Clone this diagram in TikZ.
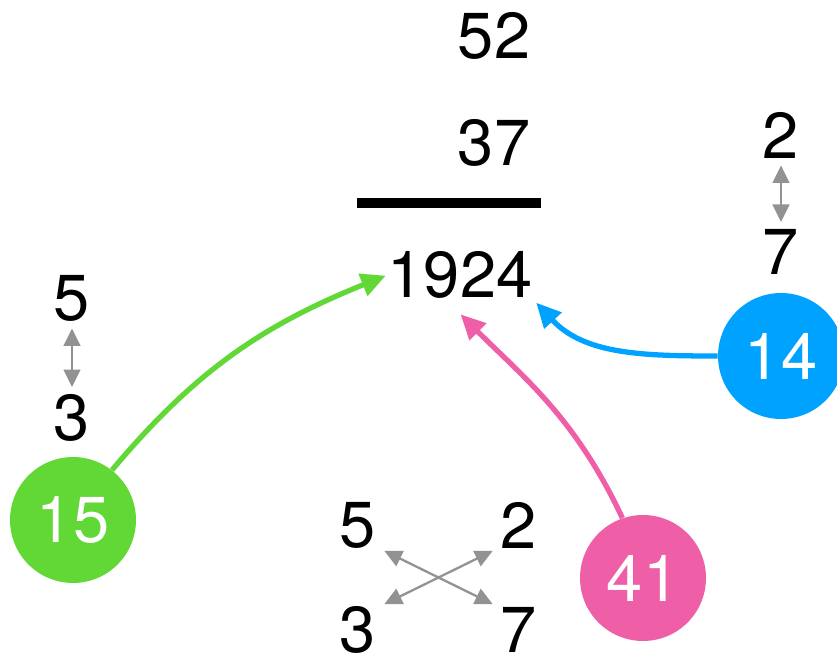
\documentclass[tikz,border=0pt]{standalone}
\usepackage{fontspec}
\setmainfont{TeX Gyre Heros}
\usetikzlibrary{arrows.meta}
\definecolor{ballgreen}{HTML}{61D836}
\definecolor{ballblue}{HTML}{00A2FF}
\definecolor{ballpink}{HTML}{EF5FA7}
\definecolor{swapgray}{HTML}{929292}

\begin{document}
\begin{tikzpicture}[x=0.02cm, y=0.02cm,
  digit/.style={inner sep=0pt, font=\fontsize{37}{40}\selectfont},
  ball/.style={circle, minimum size=2.52cm, inner sep=0pt, text=white, font=\fontsize{37}{40}\selectfont},
  swaparrow/.style={draw=swapgray, line width=1.3pt, {Triangle[length=10pt,width=9.5pt]}-{Triangle[length=10pt,width=9.5pt]}, shorten <=4pt, shorten >=4pt},
  link/.style={line width=3pt, -{Triangle[length=14pt,width=13pt]}}]
\useasboundingbox (0,0) rectangle (837,659);
% the multiplication
\node[digit] (top) at (494,623) {52};
\node[digit] (mid) at (494,516) {37};
\draw[line width=5.7pt] (357,456) -- (541,456);
\node[digit] (prod) at (460,384) {1924};
% digit pairs
\node[digit] (r2) at (781,524) {2};
\node[digit] (r7) at (781,407) {7};
\draw[swaparrow] (r2) -- (r7);
\node[digit] (l5) at (72,361) {5};
\node[digit] (l3) at (72,241) {3};
\draw[swaparrow] (l5) -- (l3);
\node[digit] (b5) at (358,134) {5};
\node[digit] (b2) at (519,134) {2};
\node[digit] (b3) at (358,29) {3};
\node[digit] (b7) at (519,29) {7};
\draw[swaparrow, shorten <=5pt, shorten >=5pt] (b5.-50) -- (b7.130);
\draw[swaparrow, shorten <=5pt, shorten >=5pt] (b3.50) -- (b2.-130);
% partial products
\node[ball, fill=ballgreen] (g) at (73,139) {15};
\node[ball, fill=ballblue] (b) at (781,303) {14};
\node[ball, fill=ballpink] (p) at (643,81) {41};
\draw[link, ballgreen, shorten >=1pt] (g.52) to[out=50, in=202] (prod.west);
\draw[link, ballblue, shorten >=3pt] (b.180) to[out=180, in=-47] (prod.south east);
\draw[link, ballpink, shorten >=12.5pt] (p.109) to[out=115, in=-45] (prod.-122);
\end{tikzpicture}
\end{document}
